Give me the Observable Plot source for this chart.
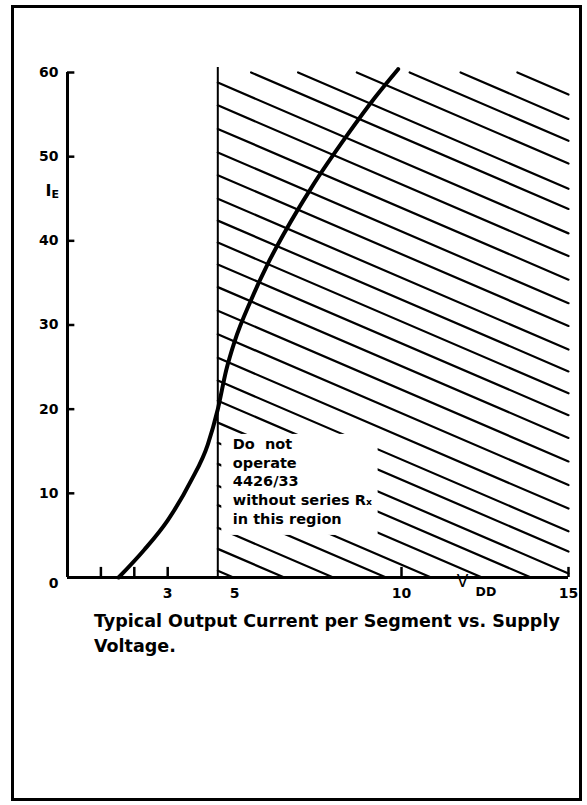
<!DOCTYPE html>
<html>
<head>
<meta charset="utf-8">
<script src="https://cdn.jsdelivr.net/npm/d3@7"></script>
<script src="https://cdn.jsdelivr.net/npm/@observablehq/plot@0.6"></script>
<style>
  html, body { margin: 0; padding: 0; background: #fff; }
  body { position: relative; width: 587px; height: 805px; overflow: hidden; font-family: "DejaVu Sans", sans-serif; }
  #chart { position: absolute; left: 0; top: 0; }
  #frame { position: absolute; left: 11px; top: 5px; width: 571px; height: 796px; border: 3px solid #000; box-sizing: border-box; pointer-events: none; }
  #caption { position: absolute; left: 94px; top: 609px; font-size: 17.5px; font-weight: bold; line-height: 25px; color: #000; white-space: nowrap; }
</style>
</head>
<body>
<div id="chart"></div>
<div id="caption">Typical Output Current per Segment vs. Supply<br>Voltage.</div>
<div id="frame"></div>
<script>
// ---- data ----
const xTicks = [1, 2, 3, 10, 15];
const xTickLabels = [3, 5, 10, 15];
const yTicks = [10, 20, 30, 40, 50, 60];
const yZeroLabel = ["0"];
// Typical output current curve (V_DD in volts, I_E in mA)
const curveV = [1.53, 2.3, 3.0, 3.7, 4.2, 4.5, 4.75, 5.0, 5.5, 6.0, 6.5, 7.3, 8.4, 9.2, 9.9];
const curveI = [0, 3.3, 6.8, 11.5, 15.8, 20.0, 24.6, 28.0, 33.0, 37.3, 41.0, 46.3, 52.7, 57.0, 60.4];
// boundary of the "do not operate" region
const boundaryV = 4.5;
// hatch lines: value of each line at V = boundaryV (mA), common slope (mA per V, downward)
const hatchAt = [0.8, 3.4, 5.9, 8.6, 10.9, 13.5, 16.0, 18.4, 21.0, 23.4, 26.1, 28.9, 31.7, 34.5, 37.2, 39.8, 42.4, 45.0, 47.8, 50.5, 53.3, 56.1, 58.8, 61.7, 64.1, 67.1, 69.8, 72.4, 75.3];
const hatchSlope = 1.706;
// blank area of the note
const noteRegion = {x1: 4.62, x2: 9.3, y1: 5.0, y2: 17.0};
const noteText = "Do\u00a0\u00a0not\noperate\n4426/33\nwithout series R\u2093\nin this region";

const xMax = 15, yMax = 60;

const curve = curveV.map((v, i) => ({v, i: curveI[i]}));

// clip each hatch line to the region boundaryV..xMax, 0..yMax
const hatchSegs = [];
for (const c of hatchAt) {
  const xs = c <= yMax ? boundaryV : boundaryV + (c - yMax) / hatchSlope;
  const xe = Math.min(xMax, boundaryV + c / hatchSlope);
  if (xe <= xs) continue;
  const f = x => c - hatchSlope * (x - boundaryV);
  hatchSegs.push({x1: xs, y1: f(xs), x2: xe, y2: f(xe)});
}

const bold = {fontWeight: "bold", fill: "black"};

const chart = Plot.plot({
  width: 587,
  height: 600,
  marginTop: 72,
  marginBottom: 23,
  marginLeft: 67,
  marginRight: 19,
  x: {domain: [0, xMax], axis: null},
  y: {domain: [0, yMax], axis: null},
  style: {fontFamily: "DejaVu Sans", background: "transparent", overflow: "visible", color: "black"},
  marks: [
    Plot.link(hatchSegs, {x1: "x1", y1: "y1", x2: "x2", y2: "y2", stroke: "black", strokeWidth: 2.2, strokeLinecap: "round"}),
    Plot.rect([noteRegion], {x1: "x1", x2: "x2", y1: "y1", y2: "y2", fill: "white"}),
    Plot.ruleX([boundaryV], {y1: 0, y2: yMax + 0.6, stroke: "black", strokeWidth: 2}),
    Plot.ruleX(xTicks, {y1: 0, y2: 1.2, stroke: "black", strokeWidth: 2.5}),
    Plot.ruleY(yTicks, {x1: 0, x2: 0.22, stroke: "black", strokeWidth: 2.5}),
    Plot.ruleY([0], {x1: 0, x2: xMax, stroke: "black", strokeWidth: 3}),
    Plot.ruleX([0], {y1: 0, y2: yMax, stroke: "black", strokeWidth: 3}),
    Plot.line(curve, {x: "v", y: "i", curve: "monotone-x", stroke: "black", strokeWidth: 4}),
    Plot.text(xTickLabels, {x: d => d, y: 0, dy: 16, fontSize: 14, ...bold}),
    Plot.text(yTicks, {x: 0, y: d => d, dx: -9, textAnchor: "end", fontSize: 14, ...bold}),
    Plot.text(yZeroLabel, {x: 0, y: 0, dx: -9, dy: 6, textAnchor: "end", fontSize: 14, ...bold}),
    Plot.text([noteText], {x: noteRegion.x1, y: noteRegion.y2, dx: 11, dy: 1, textAnchor: "start", lineAnchor: "top", lineHeight: 1.3, fontSize: 14.5, ...bold}),
    Plot.text(["I"], {frameAnchor: "top-left", dx: -22, dy: 112, fontSize: 16, ...bold}),
    Plot.text(["E"], {frameAnchor: "top-left", dx: -16, dy: 118, fontSize: 11, textAnchor: "start", ...bold}),
    Plot.text(["V"], {frameAnchor: "bottom-right", dx: -100, dy: 9, fontSize: 17, fill: "black"}),
    Plot.text(["DD"], {frameAnchor: "bottom-right", dx: -93, dy: 18, fontSize: 12.5, textAnchor: "start", ...bold})
  ]
});
document.getElementById("chart").appendChild(chart);
</script>
</body>
</html>
